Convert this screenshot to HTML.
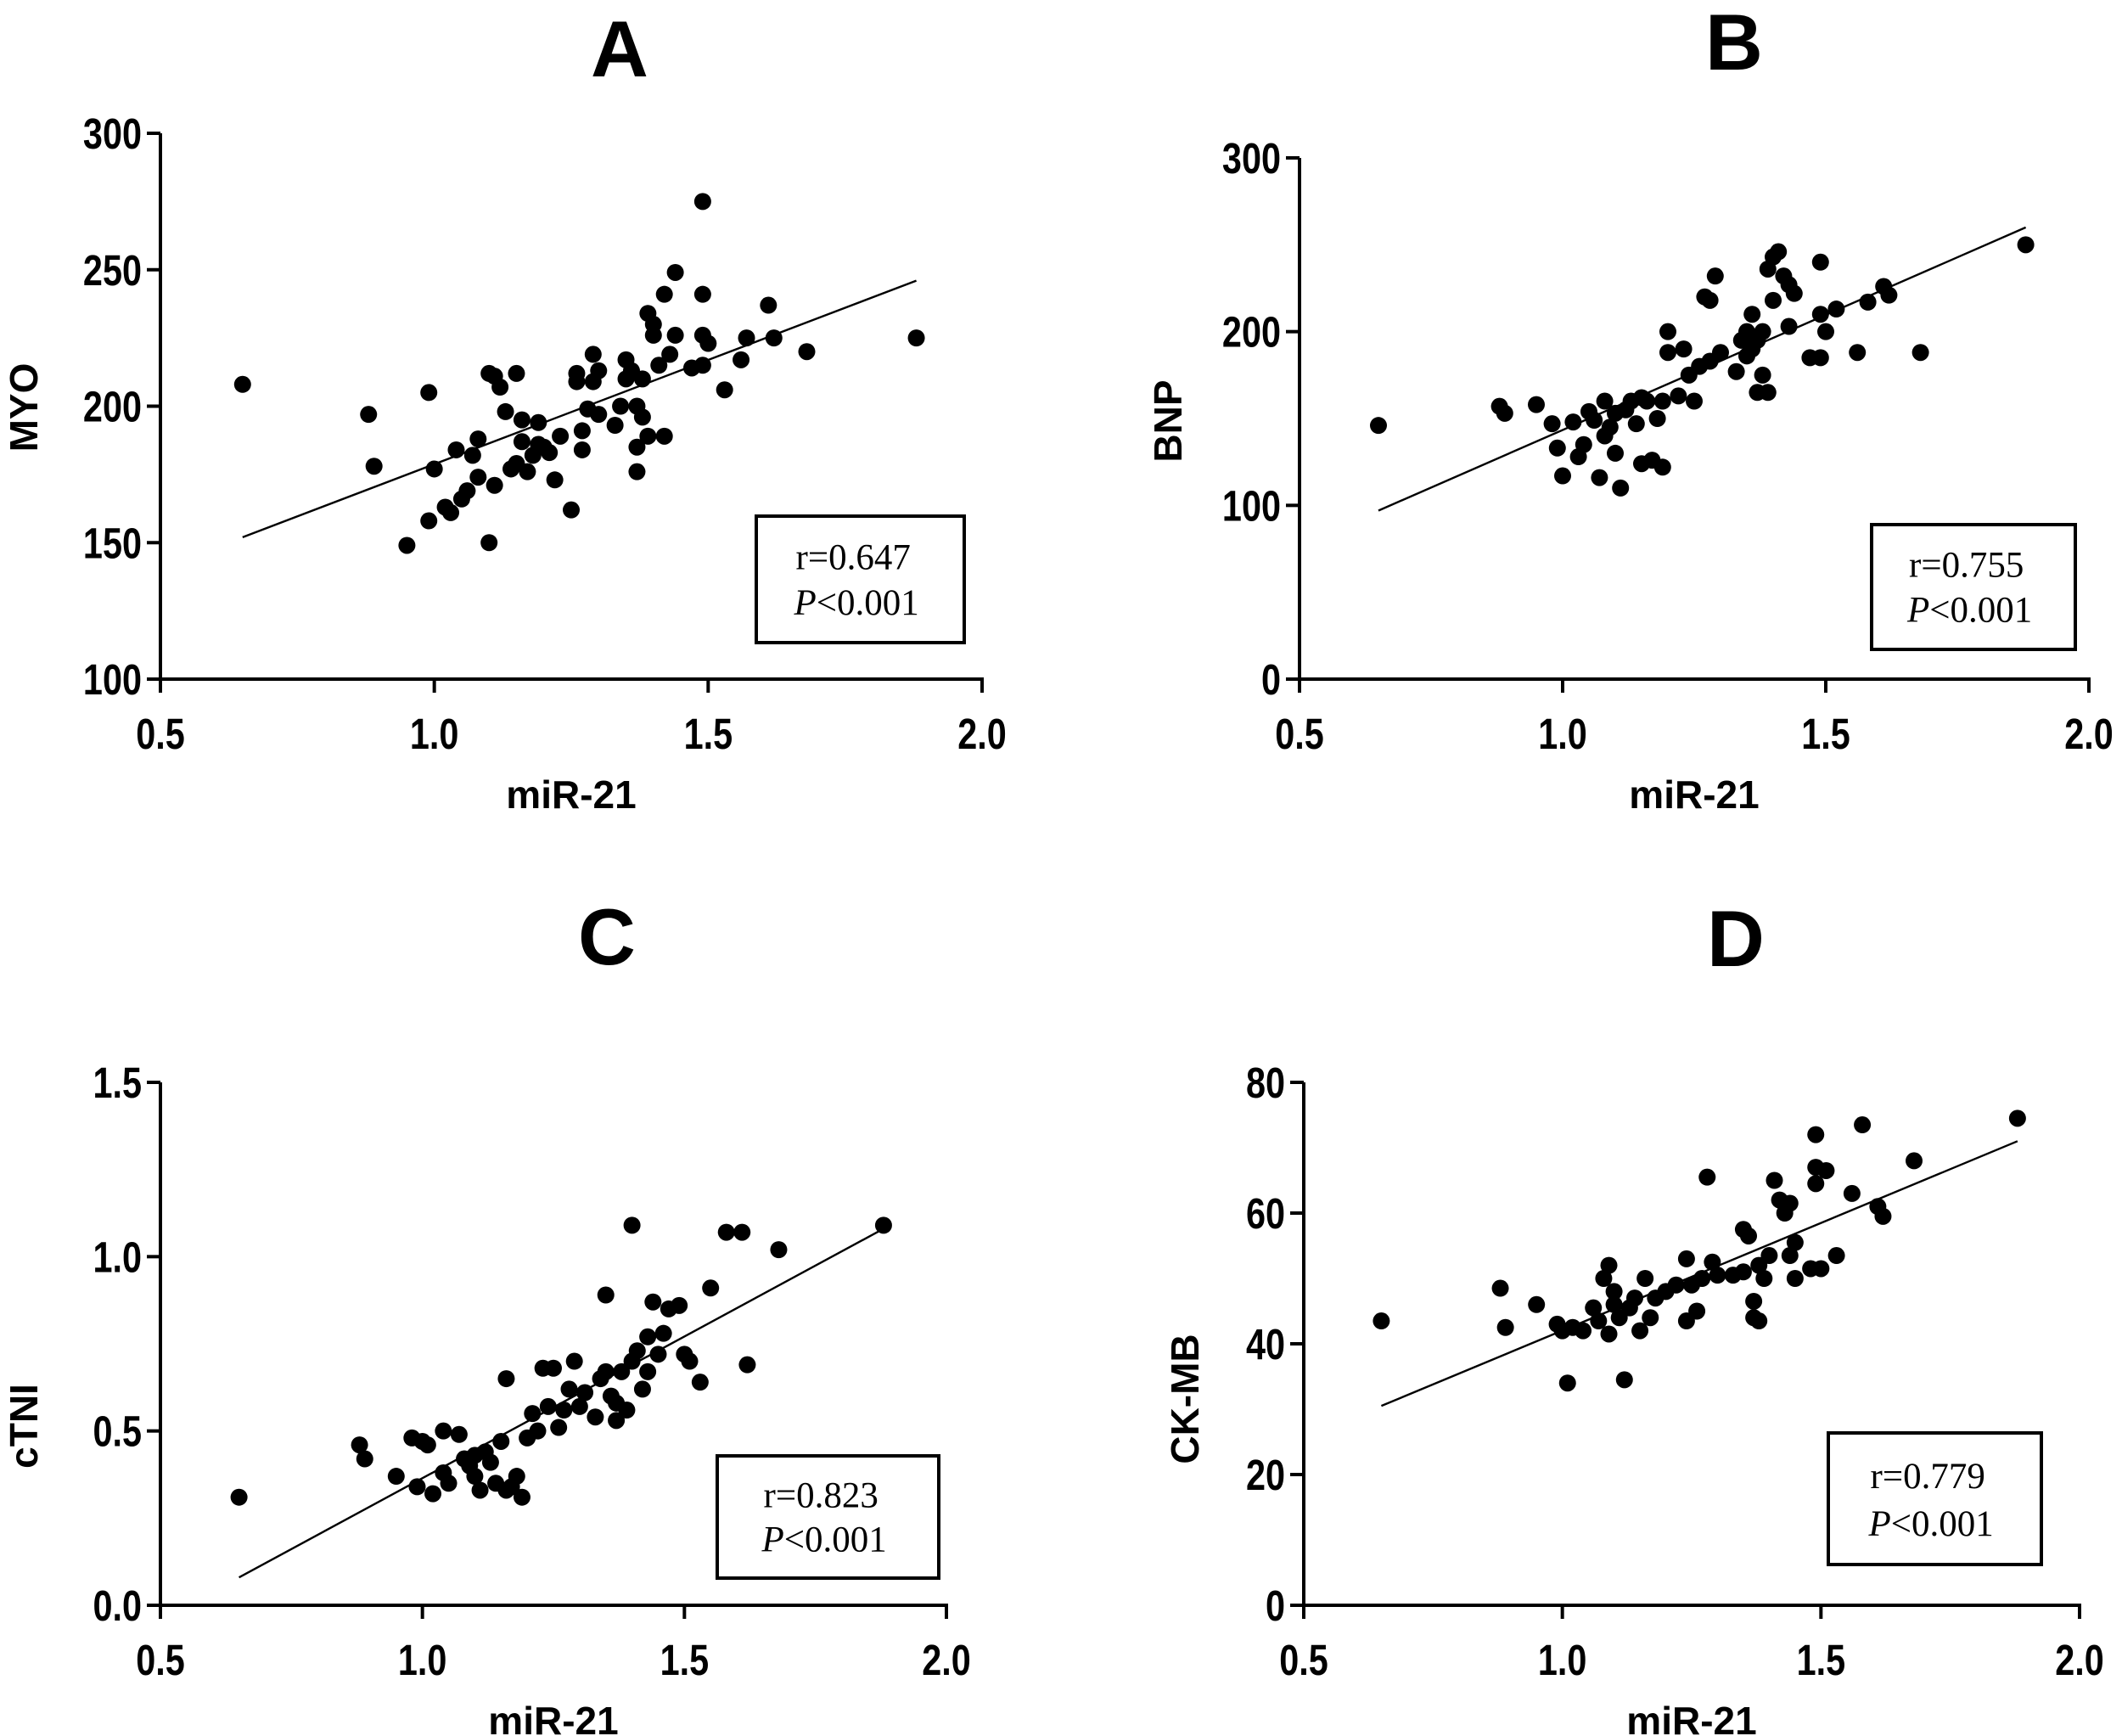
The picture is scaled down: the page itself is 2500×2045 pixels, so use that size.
<!DOCTYPE html>
<html><head><meta charset="utf-8"><style>
html,body{margin:0;padding:0;background:#fff;}
svg{display:block;}
</style></head><body>
<svg id="fig" xmlns="http://www.w3.org/2000/svg" width="2500" height="2045" viewBox="0 0 2500 2045"></svg>
<script>
// ---- data ----
const xTicks = [0.5, 1.0, 1.5, 2.0];
const xTickLabels = ["0.5", "1.0", "1.5", "2.0"];

const aX = [0.65,0.88,0.89,0.95,0.99,0.99,1.0,1.02,1.03,1.04,1.05,1.06,1.07,1.08,1.08,1.1,1.1,1.11,1.11,1.12,1.13,1.14,1.15,1.15,1.16,1.16,1.17,1.18,1.19,1.19,1.2,1.21,1.22,1.23,1.25,1.26,1.26,1.27,1.27,1.28,1.29,1.29,1.3,1.3,1.33,1.34,1.35,1.35,1.36,1.37,1.37,1.37,1.38,1.38,1.39,1.39,1.4,1.4,1.41,1.42,1.42,1.43,1.44,1.44,1.47,1.49,1.49,1.49,1.5,1.49,1.53,1.56,1.57,1.61,1.62,1.68,1.88];
const aY = [208,197,178,149,205,158,177,163,161,184,166,169,182,174,188,212,150,171,211,207,198,177,179,212,195,187,176,182,186,194,185,183,173,189,162,209,212,184,191,199,219,209,197,213,193,200,217,210,213,200,185,176,196,210,189,234,230,226,215,241,189,219,226,249,214,275,241,226,223,215,206,217,225,237,225,220,225];
const aFit = [152, 246];
const aYTicks = [100,150,200,250,300];

const bX = [0.65,0.88,0.89,0.95,0.98,0.99,1.0,1.02,1.03,1.04,1.05,1.06,1.07,1.08,1.08,1.09,1.1,1.1,1.11,1.12,1.13,1.14,1.15,1.15,1.16,1.17,1.18,1.19,1.19,1.2,1.2,1.22,1.23,1.24,1.25,1.26,1.27,1.28,1.28,1.29,1.3,1.33,1.34,1.35,1.35,1.36,1.36,1.37,1.37,1.38,1.38,1.39,1.39,1.4,1.4,1.41,1.42,1.43,1.43,1.44,1.47,1.49,1.49,1.49,1.5,1.52,1.56,1.58,1.61,1.62,1.68,1.88];
const bY = [146,157,153,158,147,133,117,148,128,135,154,149,116,160,140,145,130,153,110,155,160,147,162,124,160,126,150,122,160,188,200,163,190,175,160,180,220,218,183,232,188,177,195,200,186,210,190,195,165,200,175,236,165,243,218,246,232,227,203,222,185,240,210,185,200,213,188,217,226,221,188,250];
const bFit = [97, 260];
const bYTicks = [0,100,200,300];

const cX = [0.65,0.88,0.89,0.95,0.98,0.99,1.0,1.01,1.02,1.04,1.04,1.05,1.07,1.08,1.09,1.1,1.1,1.11,1.12,1.13,1.14,1.15,1.16,1.16,1.17,1.18,1.19,1.2,1.21,1.22,1.23,1.24,1.25,1.26,1.27,1.28,1.29,1.3,1.31,1.33,1.34,1.35,1.35,1.36,1.37,1.37,1.38,1.39,1.4,1.4,1.41,1.42,1.43,1.43,1.44,1.45,1.46,1.47,1.49,1.5,1.51,1.53,1.55,1.58,1.61,1.62,1.68,1.88];
const cY = [0.31,0.46,0.42,0.37,0.48,0.34,0.47,0.46,0.32,0.5,0.38,0.35,0.49,0.42,0.4,0.37,0.43,0.33,0.44,0.41,0.35,0.47,0.65,0.33,0.34,0.37,0.31,0.48,0.55,0.5,0.68,0.57,0.68,0.51,0.56,0.62,0.7,0.57,0.61,0.54,0.65,0.89,0.67,0.6,0.53,0.58,0.67,0.56,1.09,0.7,0.73,0.62,0.77,0.67,0.87,0.72,0.78,0.85,0.86,0.72,0.7,0.64,0.91,1.07,1.07,0.69,1.02,1.09];
const cFit = [0.08, 1.08];
const cYTicks = [0,0.5,1.0,1.5];
const cYTickLabels = ["0.0","0.5","1.0","1.5"];

const dX = [0.65,0.88,0.89,0.95,0.99,1.0,1.01,1.02,1.04,1.06,1.07,1.08,1.09,1.09,1.1,1.1,1.11,1.12,1.13,1.14,1.15,1.16,1.17,1.18,1.2,1.22,1.24,1.24,1.25,1.26,1.27,1.28,1.29,1.3,1.33,1.35,1.35,1.36,1.37,1.37,1.38,1.38,1.39,1.4,1.41,1.42,1.43,1.44,1.44,1.45,1.45,1.48,1.49,1.49,1.49,1.5,1.51,1.53,1.56,1.58,1.61,1.62,1.68,1.88];
const dY = [43.5,48.5,42.5,46,43,42,34,42.5,42,45.5,43.5,50,52,41.5,48,46,44,34.5,45.5,47,42,50,44,47,48,49,53,43.5,49,45,50,65.5,52.5,50.5,50.5,51,57.5,56.5,46.5,44,43.5,52,50,53.5,65,62,60,61.5,53.5,55.5,50,51.5,72,67,64.5,51.5,66.5,53.5,63,73.5,61,59.5,68,74.5];
const dFit = [30.5, 71];
const dYTicks = [0,20,40,60,80];

// ---- drawing ----
const NS = "http://www.w3.org/2000/svg";
const svg = document.getElementById('fig');
function mk(tag, attrs, parent, text){
  const e = document.createElementNS(NS, tag);
  for (const k in attrs) e.setAttribute(k, attrs[k]);
  if (text !== undefined) e.textContent = text;
  (parent||svg).appendChild(e);
  return e;
}
const SANS = '"Liberation Sans", Arial, sans-serif';
const SERIF = '"Liberation Serif", "Times New Roman", serif';

function panel(p){
  const g = mk('g', {});
  
  
  const sx = v => p.x0 + (v - 0.5) / 1.5 * (p.x1 - p.x0);
  const sy = v => p.y0 - (v - p.ymin) / (p.ymax - p.ymin) * (p.y0 - p.y1);

  const t = mk('text', {x:p.tx, y:p.ty, 'font-family':SANS, 'font-weight':'bold', 'font-size':94, 'text-anchor':'middle'}, g, p.title);
  
  

  const ya = mk('line', {x1:p.x0, y1:p.y1, x2:p.x0, y2:p.y0+2, stroke:'#000', 'stroke-width':4}, g);
  
  
  const xa = mk('line', {x1:p.x0-2, y1:p.y0, x2:p.x1+2, y2:p.y0, stroke:'#000', 'stroke-width':4}, g);
  
  

  xTicks.forEach((v,i)=>{
    const X = sx(v);
    mk('line', {x1:X, y1:p.y0, x2:X, y2:p.y0+16, stroke:'#000', 'stroke-width':4}, g);
    const l = mk('text', {x:0, y:0, transform:`translate(${X},${p.y0+82}) scale(0.9,1.1)`, 'font-family':SANS, 'font-weight':'bold', 'font-size':46, 'text-anchor':'middle'}, g, xTickLabels[i]);
    
    
  });
  p.yticks.forEach((v,i)=>{
    const Y = sy(v);
    mk('line', {x1:p.x0-16, y1:Y, x2:p.x0, y2:Y, stroke:'#000', 'stroke-width':4}, g);
    const l = mk('text', {x:0, y:0, transform:`translate(${p.x0-22},${Y+18}) scale(0.9,1.1)`, 'font-family':SANS, 'font-weight':'bold', 'font-size':46, 'text-anchor':'end'}, g, p.ylabels ? p.ylabels[i] : String(v));
    
    
  });

  const xt = mk('text', {x:(p.x0+p.x1)/2, y:p.y0+152, 'font-family':SANS, 'font-weight':'bold', 'font-size':46, 'text-anchor':'middle'}, g, 'miR-21');
  
  
  const yt = mk('text', {x:0, y:0, 'font-family':SANS, 'font-weight':'bold', 'font-size':46, 'text-anchor':'middle', transform:`translate(${p.ylx},${p.yly}) rotate(-90)`}, g, p.ylab);
  
  

  const fl = mk('line', {x1:sx(0.65), y1:sy(p.fit[0]), x2:sx(1.88), y2:sy(p.fit[1]), stroke:'#000', 'stroke-width':2.4}, g);
  
  

  p.xs.forEach((xv,i)=>{
    const c = mk('circle', {cx:sx(xv), cy:sy(p.ys[i]), r:10, fill:'#000'}, g);
    
    
  });

  const bx = mk('rect', {x:p.bx, y:p.by, width:p.bw, height:p.bh, fill:'#fff', stroke:'#000', 'stroke-width':4}, g);
  
  
  const r = mk('text', {x:p.bx+p.bw/2-76, y:p.by+p.bh*0.42, 'font-family':SERIF, 'font-size':43}, g, p.r);
  
  
  const pt = mk('text', {x:p.bx+p.bw/2-78, y:p.by+p.bh*0.78, 'font-family':SERIF, 'font-size':43}, g);
  
  
  mk('tspan', {'font-style':'italic'}, pt, 'P');
  mk('tspan', {}, pt, '<0.001');
}

panel({id:'a', title:'A', tx:730, ty:90, x0:189, x1:1157, y0:800, y1:157, ymin:100, ymax:300, yticks:aYTicks,
  xs:aX, ys:aY, fit:aFit, ylab:'MYO', ylx:44, yly:480, bx:891, by:608, bw:245, bh:149, r:'r=0.647'});
panel({id:'b', title:'B', tx:2043, ty:82, x0:1531, x1:2461, y0:800, y1:186, ymin:0, ymax:300, yticks:bYTicks,
  xs:bX, ys:bY, fit:bFit, ylab:'BNP', ylx:1392, yly:496, bx:2205, by:618, bw:240, bh:147, r:'r=0.755'});
panel({id:'c', title:'C', tx:715, ty:1136, x0:189, x1:1115, y0:1891, y1:1275, ymin:0, ymax:1.5, yticks:cYTicks, ylabels:cYTickLabels,
  xs:cX, ys:cY, fit:cFit, ylab:'cTNI', ylx:44, yly:1680, bx:845, by:1715, bw:261, bh:144, r:'r=0.823'});
panel({id:'d', title:'D', tx:2045, ty:1138, x0:1536, x1:2450, y0:1891, y1:1275, ymin:0, ymax:80, yticks:dYTicks,
  xs:dX, ys:dY, fit:dFit, ylab:'CK-MB', ylx:1412, yly:1648, bx:2154, by:1688, bw:251, bh:155, r:'r=0.779'});
</script>
</body></html>
